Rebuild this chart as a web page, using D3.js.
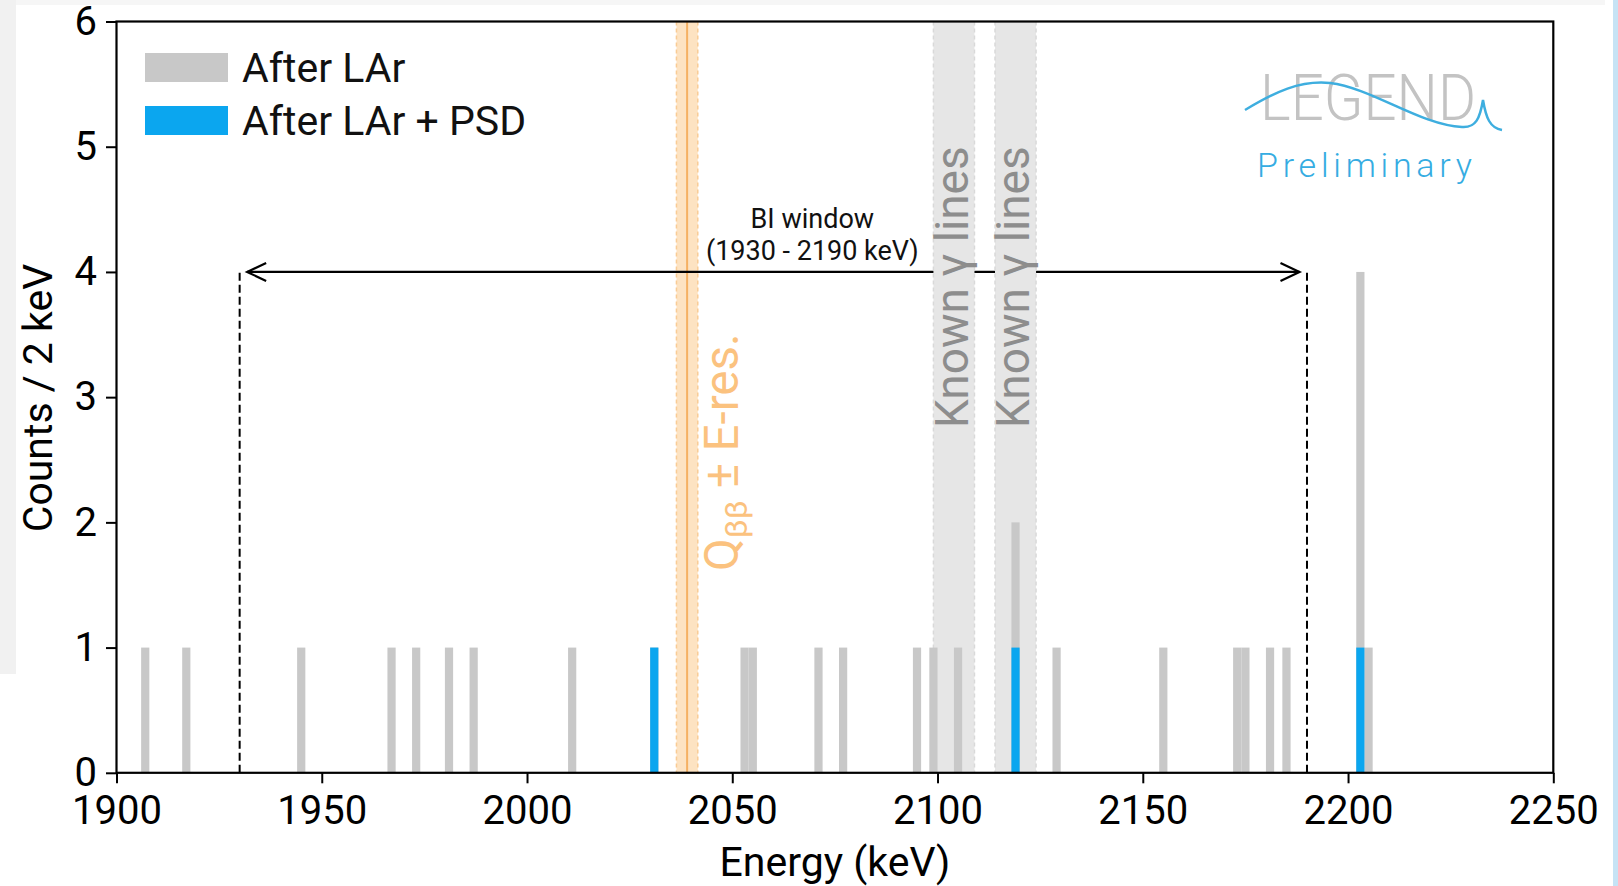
<!DOCTYPE html>
<html lang="en">
<head>
<meta charset="UTF-8">
<title>LEGEND - counts around Qbb</title>
<script src="https://cdn.jsdelivr.net/npm/d3@7"></script>
<style>
  body { margin: 0; padding: 0; background: #fff; }
  svg { display: block; font-family: Roboto, "Noto Sans", sans-serif; }
</style>
</head>
<body>
<svg id="chart" width="1618" height="886"></svg>
<script>
// histogram data, 2 keV bins (lower bin edge in keV)
const binWidth = 2;
const larBins   = [1906, 1916, 1944, 1966, 1972, 1980, 1986, 2010, 2030, 2052, 2054, 2070, 2076,
                   2094, 2098, 2104, 2118, 2128, 2154, 2172, 2174, 2180, 2184, 2202, 2204];
const larCounts = [1, 1, 1, 1, 1, 1, 1, 1, 1, 1, 1, 1, 1,
                   1, 1, 1, 2, 1, 1, 1, 1, 1, 1, 4, 1];
const psdBins   = [2030, 2118, 2202];
const psdCounts = [1, 1, 1];

// annotations
const qbb = 2039;
const eRes = 2.6;
const gammaBands = [[2099, 2109], [2114, 2124]];
const biWindow = [1930, 2190];
const biLevel = 4;

const xTicks = [1900, 1950, 2000, 2050, 2100, 2150, 2200, 2250];
const yTicks = [0, 1, 2, 3, 4, 5, 6];
const legendLabels = ['After LAr', 'After LAr + PSD'];

const grey = '#c8c8c8';
const blue = '#0ba6ef';

const svg = d3.select('#chart');
const W = 1618, H = 886;
const m = { left: 116.5, right: 1553.3, top: 21.5, bottom: 772.8 };

const x = d3.scaleLinear().domain([1900, 2250]).range([m.left, m.right]);
const y = d3.scaleLinear().domain([0, 6]).range([m.bottom, m.top]);

// page / screenshot background
svg.append('rect').attr('width', W).attr('height', H).attr('fill', '#fff');
svg.append('rect').attr('x', 0).attr('y', 0).attr('width', 1605).attr('height', 5).attr('fill', '#f6f6f6');
svg.append('rect').attr('x', 0).attr('y', 0).attr('width', 16).attr('height', 674).attr('fill', '#f1f1f1');
svg.append('rect').attr('x', 1613).attr('y', 0).attr('width', 5).attr('height', H).attr('fill', '#c6e3f5');

const plot = svg.append('g');

// Qbb band
plot.append('rect')
  .attr('x', x(qbb - eRes)).attr('y', y(6))
  .attr('width', x(qbb + eRes) - x(qbb - eRes)).attr('height', y(0) - y(6))
  .attr('fill', '#fde3c2');
[qbb - eRes, qbb + eRes].forEach(v => {
  plot.append('line')
    .attr('x1', x(v)).attr('x2', x(v)).attr('y1', y(6)).attr('y2', y(0))
    .attr('stroke', '#f9cc95').attr('stroke-width', 1.5).attr('stroke-dasharray', '4,3');
});
plot.append('line')
  .attr('x1', x(qbb)).attr('x2', x(qbb)).attr('y1', y(6)).attr('y2', y(0))
  .attr('stroke', '#f5b163').attr('stroke-width', 2);

// BI window : dashed limits + double arrow
biWindow.forEach(v => {
  plot.append('line')
    .attr('x1', x(v)).attr('x2', x(v)).attr('y1', y(0)).attr('y2', y(biLevel))
    .attr('stroke', '#000').attr('stroke-width', 2).attr('stroke-dasharray', '8,4');
});
const ax1 = x(biWindow[0]) + 7.5, ax2 = x(biWindow[1]) - 7.5, ay = y(biLevel);
plot.append('line')
  .attr('x1', ax1).attr('x2', ax2).attr('y1', ay).attr('y2', ay)
  .attr('stroke', '#000').attr('stroke-width', 2.2);
plot.append('path')
  .attr('d', `M${ax1 + 19},${ay - 9}L${ax1},${ay}L${ax1 + 19},${ay + 9}M${ax2 - 19},${ay - 9}L${ax2},${ay}L${ax2 - 19},${ay + 9}`)
  .attr('fill', 'none').attr('stroke', '#000').attr('stroke-width', 2.2);

// known gamma line bands
gammaBands.forEach(b => {
  plot.append('rect')
    .attr('x', x(b[0])).attr('y', y(6))
    .attr('width', x(b[1]) - x(b[0])).attr('height', y(0) - y(6))
    .attr('fill', '#e6e6e6');
  b.forEach(v => {
    plot.append('line')
      .attr('x1', x(v)).attr('x2', x(v)).attr('y1', y(6)).attr('y2', y(0))
      .attr('stroke', '#d9d9d9').attr('stroke-width', 1.5).attr('stroke-dasharray', '4,3');
  });
});

// histograms
plot.selectAll('rect.lar')
  .data(larBins.map((b, i) => ({ b, c: larCounts[i] })))
  .join('rect').attr('class', 'lar')
  .attr('x', d => x(d.b)).attr('width', d => x(d.b + binWidth) - x(d.b))
  .attr('y', d => y(d.c)).attr('height', d => y(0) - y(d.c))
  .attr('fill', grey);

plot.selectAll('rect.psd')
  .data(psdBins.map((b, i) => ({ b, c: psdCounts[i] })))
  .join('rect').attr('class', 'psd')
  .attr('x', d => x(d.b)).attr('width', d => x(d.b + binWidth) - x(d.b))
  .attr('y', d => y(d.c)).attr('height', d => y(0) - y(d.c))
  .attr('fill', blue);

// annotation texts
gammaBands.forEach(b => {
  plot.append('text')
    .attr('transform', `translate(${x((b[0] + b[1]) / 2)},428) rotate(-90)`)
    .attr('dy', '0.3em')
    .attr('font-size', 46).attr('fill', '#8d8d8d')
    .text('Known γ lines');
});

const qt = plot.append('text')
  .attr('transform', `translate(${x(qbb) + 51},571) rotate(-90)`)
  .attr('font-size', 47.5).attr('fill', '#fbc27f');
qt.append('tspan').text('Q');
qt.append('tspan').attr('font-size', 32).attr('dy', 9).text('ββ');
qt.append('tspan').attr('dy', -9).text(' ± E-res.');

const biMid = 2069.5;
plot.append('text').attr('x', x(biMid)).attr('y', 227.5)
  .attr('text-anchor', 'middle').attr('font-size', 27).attr('fill', '#111')
  .text('BI window');
plot.append('text').attr('x', x(biMid)).attr('y', 259.5)
  .attr('text-anchor', 'middle').attr('font-size', 27).attr('fill', '#111')
  .text('(1930 - 2190 keV)');

// axes
const xAxis = svg.append('g').attr('transform', `translate(0,${m.bottom})`)
  .call(d3.axisBottom(x).tickValues(xTicks).tickFormat(d3.format('d')).tickSize(10.5).tickPadding(12));
const yAxis = svg.append('g').attr('transform', `translate(${m.left},0)`)
  .call(d3.axisLeft(y).tickValues(yTicks).tickFormat(d3.format('d')).tickSize(10.5).tickPadding(9));
[xAxis, yAxis].forEach(a => {
  a.select('.domain').remove();
  a.selectAll('.tick line').attr('stroke', '#000').attr('stroke-width', 2);
  a.selectAll('.tick text').attr('fill', '#000').attr('font-size', 40)
    .attr('font-family', 'Roboto, sans-serif');
});
xAxis.selectAll('.tick text').attr('dy', '0.71em');

svg.append('rect')
  .attr('x', m.left).attr('y', m.top)
  .attr('width', m.right - m.left).attr('height', m.bottom - m.top)
  .attr('fill', 'none').attr('stroke', '#000').attr('stroke-width', 2.2);

svg.append('text').attr('x', (m.left + m.right) / 2).attr('y', 876)
  .attr('text-anchor', 'middle').attr('font-size', 41).text('Energy (keV)');
svg.append('text')
  .attr('transform', 'translate(52,398) rotate(-90)')
  .attr('text-anchor', 'middle').attr('font-size', 41).text('Counts / 2 keV');

// legend
const leg = svg.append('g');
[grey, blue].forEach((c, i) => {
  leg.append('rect').attr('x', 145).attr('y', 53 + i * 53).attr('width', 83).attr('height', 29).attr('fill', c);
  leg.append('text').attr('x', 242).attr('y', 81.5 + i * 53)
    .attr('font-size', 41).attr('fill', '#111').text(legendLabels[i]);
});

// LEGEND logo
const logo = svg.append('g');
logo.append('text').attr('x', 1260).attr('y', 120)
  .attr('font-size', 64).attr('font-weight', 300).attr('fill', '#c3c3c3')
  .attr('textLength', 216).attr('lengthAdjust', 'spacingAndGlyphs')
  .text('LEGEND');
logo.append('path')
  .attr('d', 'M1245,110 C1275,92 1300,80 1330,83 C1372,88 1420,125 1462,127 C1476,128 1480,118 1483,100 C1486,118 1490,128 1502,130')
  .attr('fill', 'none').attr('stroke', '#3eaedf').attr('stroke-width', 2.5);
logo.append('text').attr('x', 1257).attr('y', 177)
  .attr('font-size', 34).attr('font-weight', 300).attr('fill', '#35ace2')
  .attr('textLength', 215).attr('lengthAdjust', 'spacing')
  .text('Preliminary');
</script>
</body>
</html>
